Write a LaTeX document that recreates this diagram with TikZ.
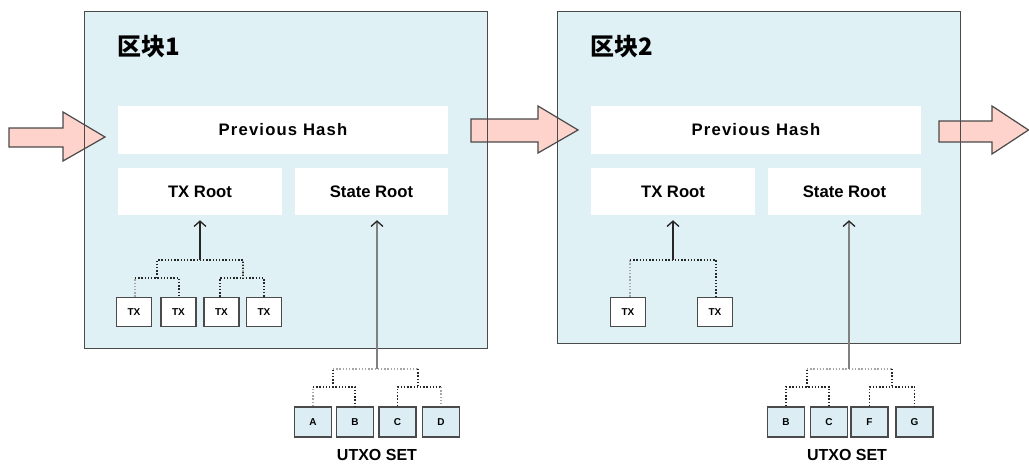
\documentclass[tikz,border=0pt]{standalone}
\usepackage{fontspec}
\setmainfont{Liberation Sans}
\newfontfamily\cjk{Noto Sans CJK SC}
\usetikzlibrary{arrows.meta}
\newdimen\px \px=0.75pt
\definecolor{blockblue}{HTML}{E0F1F6}
\definecolor{leafblue}{HTML}{DCEEF4}
\definecolor{pinkarrow}{HTML}{FDD3CB}
\definecolor{edgegray}{HTML}{4A4A4A}
\tikzset{
  blockfill/.style={fill=blockblue, draw=none, minimum width=#1, inner sep=0pt},
  blockborder/.style={draw=edgegray, line width=1.1pt},
  hdrbox/.style={fill=white, draw=none, inner sep=0pt, font=\bfseries\fontsize{12.5}{14}\selectfont},
  titletext/.style={font=\cjk\bfseries\fontsize{18}{20}\selectfont, inner sep=0pt, anchor=west},
  txbox/.style={fill=white, draw=edgegray, line width=1pt, minimum width=35\px, minimum height=29\px, inner sep=0pt, font=\bfseries\fontsize{7.5}{8}\selectfont},
  leafbox/.style={fill=leafblue, draw=edgegray, line width=1.2pt, minimum width=37\px, minimum height=30\px, inner sep=0pt, font=\bfseries\fontsize{7.5}{8}\selectfont},
  darkdot/.style={draw=black!85, line width=1pt, dash pattern=on 1.1pt off 1.3pt},
  lightdot/.style={draw=black!35, line width=1pt, dash pattern=on 1.1pt off 1.3pt},
  rootarrow/.style={draw=black!85, line width=1pt, -{Straight Barb[length=4pt,width=9pt,line width=1pt]}, shorten >=5\px},
  statearrow/.style={draw=black!50, line width=2pt, -{Straight Barb[length=4pt,width=9pt,line width=1pt,color=black!85]}, shorten >=5\px},
  pinkfill/.style={fill=pinkarrow, draw=edgegray, line width=0.9pt, line join=miter},
  settext/.style={font=\bfseries\fontsize{12}{13}\selectfont, inner sep=0pt},
}
\begin{document}
\begin{tikzpicture}[x=0.75pt, y=-0.75pt]
\useasboundingbox (0,0) rectangle (1029,464);

% block fills
\node[blockfill=402\px, minimum height=336\px] (b1) at (286,180) {};
\node[blockfill=402\px, minimum height=331\px] (b2) at (759,177.5) {};

% pink arrows
\draw[pinkfill] (9,128) -- (63,128) -- (63,112) -- (105,137) -- (63,161) -- (63,147) -- (9,147) -- cycle;
\draw[pinkfill] (471,119) -- (538,119) -- (538,106) -- (578,130) -- (538,153) -- (538,142) -- (471,142) -- cycle;
\draw[pinkfill] (939,121) -- (992,121) -- (992,106) -- (1028.5,130) -- (992,154) -- (992,142) -- (939,142) -- cycle;

% block borders
\draw[blockborder] (b1.south west) rectangle (b1.north east);
\draw[blockborder] (b2.south west) rectangle (b2.north east);

% titles
\node[titletext] (t1) at (117,47) {区块1};
\node[titletext] (t2) at (590,47) {区块2};

% header boxes block 1
\node[hdrbox, minimum width=330\px, minimum height=48\px] (ph1) at (283,130) {\addfontfeature{LetterSpace=7}Previous Hash};
\node[hdrbox, minimum width=164\px, minimum height=47\px] (tr1) at (200,191.5) {TX Root};
\node[hdrbox, minimum width=153\px, minimum height=47\px] (sr1) at (371.5,191.5) {State Root};

% header boxes block 2
\node[hdrbox, minimum width=330\px, minimum height=48\px] (ph2) at (756,130) {\addfontfeature{LetterSpace=7}Previous Hash};
\node[hdrbox, minimum width=164\px, minimum height=47\px] (tr2) at (673,191.5) {TX Root};
\node[hdrbox, minimum width=153\px, minimum height=47\px] (sr2) at (844.5,191.5) {State Root};

% TX tree block 1
\node[txbox] (tx1) at (134,312) {TX};
\node[txbox] (tx2) at (178.5,312) {TX};
\node[txbox] (tx3) at (221.5,312) {TX};
\node[txbox] (tx4) at (264,312) {TX};
\coordinate (p1) at (157,278);
\coordinate (p2) at (243,278);
\coordinate (r1) at (200,260);
\draw[lightdot] ([xshift=1\px]tx1.north) -- ([xshift=1\px]tx1.north |- p1);
\draw[darkdot] ([xshift=1\px]tx1.north |- p1) -- (p1) -- ([xshift=0.5\px]tx2.north |- p1) -- ([xshift=0.5\px]tx2.north);
\draw[darkdot] ([xshift=-1.5\px]tx3.north) |- (p2) -- (tx4.north |- p2) -- (tx4.north);
\draw[darkdot] (p1) |- (r1) -| (p2);
\draw[lightdot] (p2) -- (p2 |- r1);
\draw[rootarrow] (r1) -- (tr1.south);

% TX tree block 2
\node[txbox] (tx5) at (628,312) {TX};
\node[txbox] (tx6) at (715,312) {TX};
\coordinate (r2) at (673,260);
\draw[lightdot] ([xshift=2\px]tx5.north) -- ([xshift=2\px]tx5.north |- r2);
\draw[darkdot] ([xshift=2\px]tx5.north |- r2) -- ([xshift=1\px]tx6.north |- r2) -- ([xshift=1\px]tx6.north);
\draw[rootarrow] (r2) -- (tr2.south);

% UTXO set 1
\node[leafbox] (ua) at (313,422) {A};
\node[leafbox] (ub) at (355,422) {B};
\node[leafbox] (uc) at (397.5,422) {C};
\node[leafbox] (ud) at (441,422) {D};
\coordinate (q1) at (333,387);
\coordinate (q2) at (418,387);
\coordinate (s1) at (377,369);
\draw[lightdot] (ua.north) -- (ua.north |- q1);
\draw[darkdot] (ua.north |- q1) -- (ub.north |- q1) -- (ub.north);
\draw[darkdot] (uc.north) |- (ud.north |- q2);
\draw[lightdot] (ud.north |- q2) -- (ud.north);
\draw[darkdot] (q1) -- (q1 |- s1);
\draw[lightdot] (q1 |- s1) -- (q2 |- s1);
\draw[darkdot] (q2 |- s1) -- (q2);
\draw[statearrow] (s1) -- (s1 |- sr1.south);
\node[settext] (set1) at (377,455) {UTXO SET};

% UTXO set 2
\node[leafbox] (vb) at (786,422) {B};
\node[leafbox] (vc) at (829,422) {C};
\node[leafbox] (vf) at (869.5,422) {F};
\node[leafbox] (vg) at (914.5,422) {G};
\coordinate (q3) at (807,387);
\coordinate (q4) at (892,387);
\coordinate (s2) at (849,369);
\draw[darkdot] (vb.north) |- (vc.north |- q3) -- (vc.north);
\draw[darkdot] (vf.north) |- (vg.north |- q4) -- (vg.north);
\draw[darkdot] (q3) -- (q3 |- s2);
\draw[lightdot] (q3 |- s2) -- (q4 |- s2);
\draw[darkdot] (q4 |- s2) -- (q4);
\draw[statearrow] (s2) -- (s2 |- sr2.south);
\node[settext] (set2) at (847,455) {UTXO SET};
\end{tikzpicture}
\end{document}
